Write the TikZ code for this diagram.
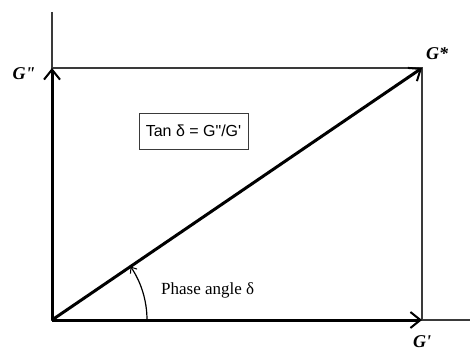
\documentclass[tikz,border=0pt]{standalone}
\usepackage{fontspec}
\setmainfont{Liberation Serif}
\newfontfamily\timesfont{Liberation Serif}
\newfontfamily\arialfont{Liberation Sans}
\usetikzlibrary{arrows.meta}
\definecolor{thinline}{HTML}{3A3A3A}
\tikzset{
  thinax/.style={draw=thinline, line width=1.3pt},
  vector/.style={draw=black, line width=3pt, -{Straight Barb[length=10pt,width=16pt,line width=2pt]}},
  glabel/.style={font=\timesfont\fontsize{18}{18}\selectfont\bfseries\itshape, inner sep=0pt},
  ratiobox/.style={draw=thinline, line width=0.9pt, minimum width=109pt, minimum height=36pt, inner sep=0pt, font=\arialfont\fontsize{16}{16}\selectfont},
  phaselabel/.style={font=\timesfont\fontsize{17}{17}\selectfont, inner sep=0pt, anchor=west}
}
\begin{document}
\begin{tikzpicture}[x=1pt,y=1pt]
\useasboundingbox (0,0) rectangle (470,351);
\coordinate (O) at (52,31);
\coordinate (Gpp) at (52,283);
\coordinate (Gs) at (422,283);
\coordinate (Gp) at (422,31);
\coordinate (ytop) at (52,339);
\coordinate (xend) at (470,31);
\coordinate (arcstart) at (147,31);
% thin frame and axes
\draw[thinax] (ytop) -- (O) -- (xend);
\draw[thinax] (Gpp) -- (Gs) -- (Gp);
% vectors
\draw[vector] (O) -- (Gpp);
\draw[vector] (O) -- (Gp);
\draw[vector] (O) -- (Gs);
% phase angle arc
\draw[line width=1.2pt, -{Straight Barb[length=5pt,width=8pt,line width=1pt]}] (arcstart) arc[start angle=0, end angle=34.26, radius=95pt];
% labels
\node[glabel] (lGpp) at (24,277) {G"};
\node[glabel] (lGs) at (437,297) {G*};
\node[glabel] (lGp) at (422,9) {G'};
\node[ratiobox] (ratio) at (193.5,220) {Tan δ = G"/G'};
\node[phaselabel] (phase) at (161,61) {Phase angle δ};
\end{tikzpicture}
\end{document}
